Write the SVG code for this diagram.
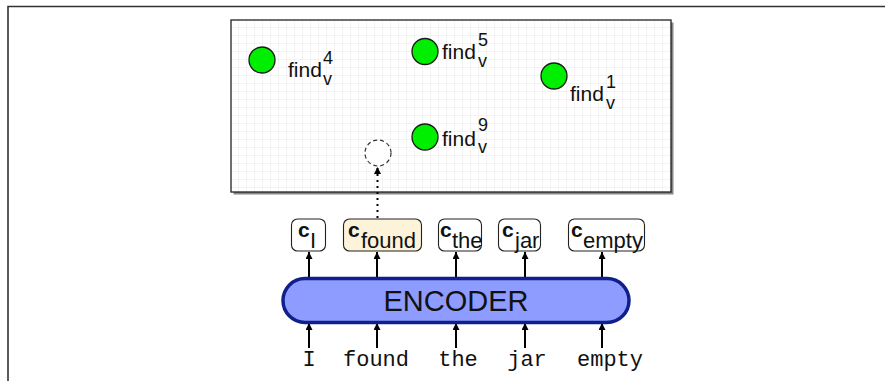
<svg xmlns="http://www.w3.org/2000/svg" width="885" height="381" viewBox="0 0 885 381">
<defs>
<pattern id="grid" x="231" y="20" width="8" height="8" patternUnits="userSpaceOnUse">
<path d="M8 0 V8 M0 8 H8" fill="none" stroke="#e6e6e6" stroke-width="1"/>
</pattern>
<marker id="ah" viewBox="0 0 10 10" refX="10" refY="5" markerWidth="3.5" markerHeight="3.5" orient="auto" markerUnits="strokeWidth">
<path d="M0 0 L10 5 L0 10 z" fill="#000"/>
</marker>
</defs>
<style>
.frame{fill:none;stroke:#333;stroke-width:1.6}
.dot{fill:#00ee00;stroke:#1a1a1a;stroke-width:1.3}
.lbl{font-family:"Liberation Sans",Arial,sans-serif;fill:#111}
.find{font-size:21px}
.sm{font-size:18px}
.cbox{fill:#fff;stroke:#222;stroke-width:1.1}
.cb{font-family:"Liberation Sans",Arial,sans-serif;font-weight:bold;font-size:21px;fill:#111}
.cs{font-family:"Liberation Sans",Arial,sans-serif;font-size:22px;fill:#111}
.word{font-family:"Liberation Mono","Courier New",monospace;font-size:22px;fill:#111;text-anchor:middle}
.arr{stroke:#000;stroke-width:2;fill:none;marker-end:url(#ah)}
</style>
<rect x="0" y="0" width="885" height="381" fill="#fff"/>
<path class="frame" d="M8 381 V6.5 H885"/>
<g id="space">
<rect x="233.5" y="22.5" width="440" height="172" fill="#888"/>
<rect x="231" y="20" width="440" height="172" fill="#fff"/>
<rect x="231" y="20" width="440" height="172" fill="url(#grid)" stroke="#222" stroke-width="1.3"/>
</g>
<g id="find4">
<circle class="dot" cx="262" cy="60" r="13"/>
<text class="lbl find" x="288" y="77">find</text>
<text class="lbl sm" x="323" y="64">4</text>
<text class="lbl sm" x="323" y="85">v</text>
</g>
<g id="find5">
<circle class="dot" cx="425" cy="51.5" r="13"/>
<text class="lbl find" x="442" y="59">find</text>
<text class="lbl sm" x="478" y="46">5</text>
<text class="lbl sm" x="478" y="67">v</text>
</g>
<g id="find1">
<circle class="dot" cx="554" cy="76" r="13"/>
<text class="lbl find" x="570" y="101">find</text>
<text class="lbl sm" x="606" y="88">1</text>
<text class="lbl sm" x="606" y="109">v</text>
</g>
<g id="find9">
<circle class="dot" cx="425" cy="137" r="13"/>
<text class="lbl find" x="442" y="146">find</text>
<text class="lbl sm" x="478" y="131">9</text>
<text class="lbl sm" x="478" y="153">v</text>
</g>
<g id="query">
<circle cx="378" cy="153" r="13" fill="#fff" stroke="#333" stroke-width="1.2" stroke-dasharray="4 3"/>
</g>
<g id="connectors">
<line x1="377.5" y1="218" x2="377.5" y2="167" stroke="#000" stroke-width="2" stroke-dasharray="2 4" marker-end="url(#ah)"/>
<line class="arr" x1="309" y1="278" x2="309" y2="252"/>
<line class="arr" x1="377" y1="278" x2="377" y2="252"/>
<line class="arr" x1="456" y1="278" x2="456" y2="252"/>
<line class="arr" x1="525" y1="278" x2="525" y2="252"/>
<line class="arr" x1="602" y1="278" x2="602" y2="252"/>
<line class="arr" x1="309" y1="348" x2="309" y2="323"/>
<line class="arr" x1="377" y1="348" x2="377" y2="323"/>
<line class="arr" x1="456" y1="348" x2="456" y2="323"/>
<line class="arr" x1="525" y1="348" x2="525" y2="323"/>
<line class="arr" x1="602" y1="348" x2="602" y2="323"/>
</g>
<g id="c_I">
<rect class="cbox" x="291.5" y="219" width="34" height="32" rx="6"/>
<text class="cb" x="298" y="237">c</text><text class="cs" x="310" y="248">I</text>
</g>
<g id="c_found">
<rect class="cbox" x="343.5" y="219" width="78" height="32" rx="6" style="fill:#fdf3d8"/>
<text class="cb" x="348" y="237">c</text><text class="cs" x="361" y="248">found</text>
</g>
<g id="c_the">
<rect class="cbox" x="438.5" y="219" width="43" height="32" rx="6"/>
<text class="cb" x="440" y="237">c</text><text class="cs" x="452" y="248">the</text>
</g>
<g id="c_jar">
<rect class="cbox" x="498.5" y="219" width="42" height="32" rx="6"/>
<text class="cb" x="502" y="237">c</text><text class="cs" x="515" y="248">jar</text>
</g>
<g id="c_empty">
<rect class="cbox" x="568.5" y="219" width="76" height="32" rx="6"/>
<text class="cb" x="571" y="237">c</text><text class="cs" x="583" y="248">empty</text>
</g>
<g id="encoder">
<rect x="283" y="278.5" width="346" height="44" rx="22" fill="#8e9bff" stroke="#0f1f8c" stroke-width="3.5"/>
<text x="456" y="311" font-family="'Liberation Sans',Arial,sans-serif" font-size="29" fill="#111" text-anchor="middle">ENCODER</text>
</g>
<g id="words">
<text class="word" x="309" y="366">I</text>
<text class="word" x="376" y="366">found</text>
<text class="word" x="458" y="366">the</text>
<text class="word" x="527" y="366">jar</text>
<text class="word" x="610" y="366">empty</text>
</g>
</svg>
